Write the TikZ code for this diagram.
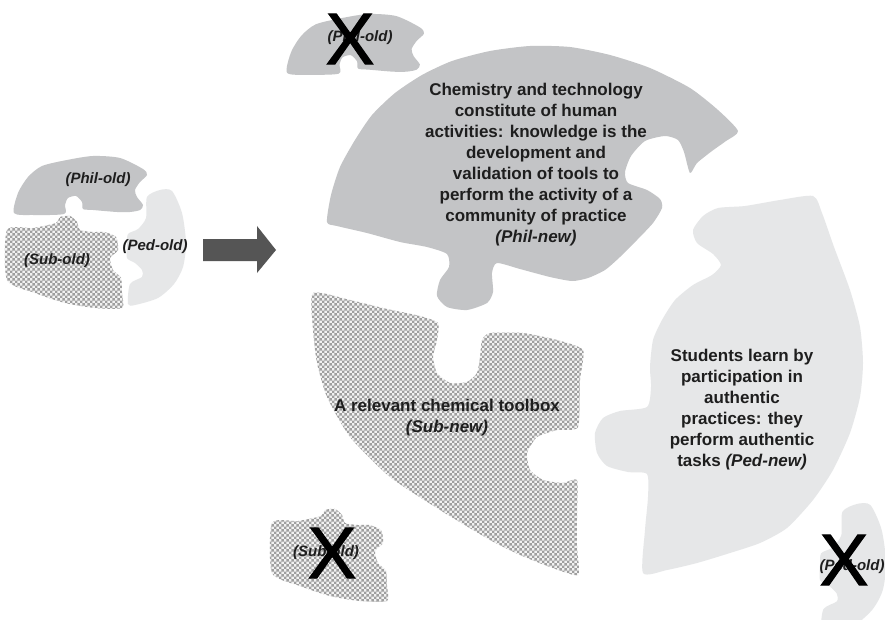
\documentclass[tikz,border=0pt]{standalone}
\usepackage{fontspec}
\setmainfont{Liberation Sans}
\newfontfamily\xmarkfont[FakeBold=1.6]{Liberation Sans}
\usetikzlibrary{patterns}
\pgfdeclarepatternformonly{chk}{\pgfpointorigin}{\pgfqpoint{5.4pt}{5.4pt}}{\pgfqpoint{5.4pt}{5.4pt}}{%
 \pgfpathrectangle{\pgfpointorigin}{\pgfqpoint{2.7pt}{2.7pt}}%
 \pgfpathrectangle{\pgfqpoint{2.7pt}{2.7pt}}{\pgfqpoint{2.7pt}{2.7pt}}%
 \pgfusepath{fill}}
\definecolor{philc}{HTML}{C3C4C6}
\definecolor{pedc}{HTML}{E6E7E8}
\definecolor{arrc}{HTML}{555555}
\definecolor{txtc}{HTML}{1E1E1E}
\begin{document}
\begin{tikzpicture}[x=1pt,y=-1pt,
  philpiece/.style={fill=philc},
  pedpiece/.style={fill=pedc},
  subpiece/.style={preaction={fill=gray!10}, pattern=chk, pattern color=gray!75},
  bigtext/.style={text=txtc, align=center, inner sep=0pt, font=\fontsize{17}{21}\selectfont\bfseries},
  oldlabel/.style={text=txtc, inner sep=0pt, font=\fontsize{15}{18}\selectfont\bfseries\itshape},
  crossmark/.style={text=black, inner sep=0pt, font=\xmarkfont\fontsize{73}{73}\selectfont}]
\useasboundingbox (0,0) rectangle (885,620);
\fill[white] (0,0) rectangle (885,620);

% ---------- small old disc ----------
\def\philold{plot[smooth cycle, tension=0.45] coordinates {(14,213) (18,193) (28,177) (42,166) (67,160) (93,156) (120,158) (143,169) (147,175) (140,182) (135,190) (137,197) (143,205) (140,210) (130,212) (117,212) (93,210) (83,209) (82,202) (76,196) (68,198) (65,205) (64,214) (33,215)}}
\def\subold{plot[smooth cycle, tension=0.4] coordinates {(7,230) (33,228) (56,223) (60,217) (70,216) (77,222) (80,230) (93,232) (104,232) (116,237) (118,250) (110,258) (113,270) (121,278) (122,293) (122,308) (95,308) (65,303) (35,293) (7,280)}}
\def\pedold{plot[smooth cycle, tension=0.45] coordinates {(147,197) (160,190) (172,191) (182,213) (186,243) (183,267) (174,284) (158,298) (135,305) (128,304) (130,284) (142,277) (142,270) (135,263) (127,258) (127,245) (128,234) (138,229) (146,218)}}

\fill[philpiece] \philold;
\fill[subpiece] \subold;
\fill[pedpiece] \pedold;
\node[oldlabel] (lphil) at (98,180) {(Phil-old)};
\node[oldlabel] (lsub) at (57,261) {(Sub-old)};
\node[oldlabel] (lped) at (155,247) {(Ped-old)};

% ---------- arrow ----------
\fill[arrc] (203,239) -- (257,239) -- (257,226) -- (276,250) -- (257,273) -- (257,261) -- (203,261) -- cycle;

% ---------- new pieces ----------
\fill[philpiece] plot[smooth cycle, tension=0.4] coordinates {(327,222) (331,195) (340,167) (355,140) (372,115) (395,93) (422,75) (452,61) (490,51) (530,46) (570,47) (610,55) (650,68) (690,88) (718,110) (738,131) (726,141) (712,151) (697,163) (690,173) (684,152) (678,140) (665,136) (645,141) (631,156) (625,172) (628,183) (647,190) (660,199) (662,208) (653,223) (637,240) (620,257) (605,270) (588,278) (572,281) (550,277) (520,269) (497,263) (492,273) (493,292) (487,303) (467,310) (447,307) (437,296) (440,280) (449,267) (447,254) (427,247) (400,242) (367,233) (337,226)};

\fill[pedpiece] plot[smooth cycle, tension=0.4] coordinates {(813,196) (780,200) (745,206) (718,208) (703,216) (693,230) (697,243) (713,254) (721,265) (712,275) (693,285) (675,300) (662,320) (653,340) (650,367) (651,387) (647,407) (620,411) (603,418) (595,433) (597,453) (607,466) (628,472) (647,474) (648,497) (645,530) (643,573) (667,570) (697,563) (730,553) (760,543) (787,528) (813,500) (833,470) (850,433) (860,397) (863,363) (860,327) (850,290) (834,247) (822,213)};

\fill[subpiece] plot[smooth cycle, tension=0.35] coordinates {(313,293) (350,300) (387,309) (420,316) (438,323) (437,340) (433,357) (437,373) (450,383) (467,382) (477,373) (480,357) (482,340) (490,333) (523,333) (557,340) (583,350) (580,380) (578,427) (557,430) (537,437) (527,453) (530,470) (543,480) (563,483) (577,480) (577,513) (577,547) (578,575) (550,567) (520,555) (490,540) (440,510) (390,477) (350,437) (327,397) (317,363) (313,330)};

\node[bigtext] (philnew) at (536,165) {Chemistry and technology\\constitute of human\\activities: knowledge is the\\development and\\validation of tools to\\perform the activity of a\\community of practice\\\textit{(Phil-new)}};
\node[bigtext] (pednew) at (742,410) {Students learn by\\participation in\\authentic\\practices: they\\perform authentic\\tasks \textit{(Ped-new)}};
\node[bigtext] (subnew) at (447,418) {A relevant chemical toolbox\\\textit{(Sub-new)}};

% ---------- crossed-out old pieces ----------
\begin{scope}[shift={(287,14)}, scale=1.03, shift={(-14,-156)}]
  \fill[philpiece] \philold;
\end{scope}
\begin{scope}[shift={(265,293)}]
  \fill[subpiece] \subold;
\end{scope}
\begin{scope}[shift={(820,504)}, scale=1.12, shift={(-127,-190)}]
  \fill[pedpiece] \pedold;
\end{scope}
\node[oldlabel] (xphil) at (360,38) {(Phil-old)};
\node[oldlabel] (xsub) at (326,553) {(Sub-old)};
\node[oldlabel] (xped) at (852,567) {(Ped-old)};
\node[crossmark] (x1) at (350,39) {X};
\node[crossmark] (x2) at (332,553) {X};
\node[crossmark] (x3) at (844,560) {X};
\end{tikzpicture}
\end{document}
